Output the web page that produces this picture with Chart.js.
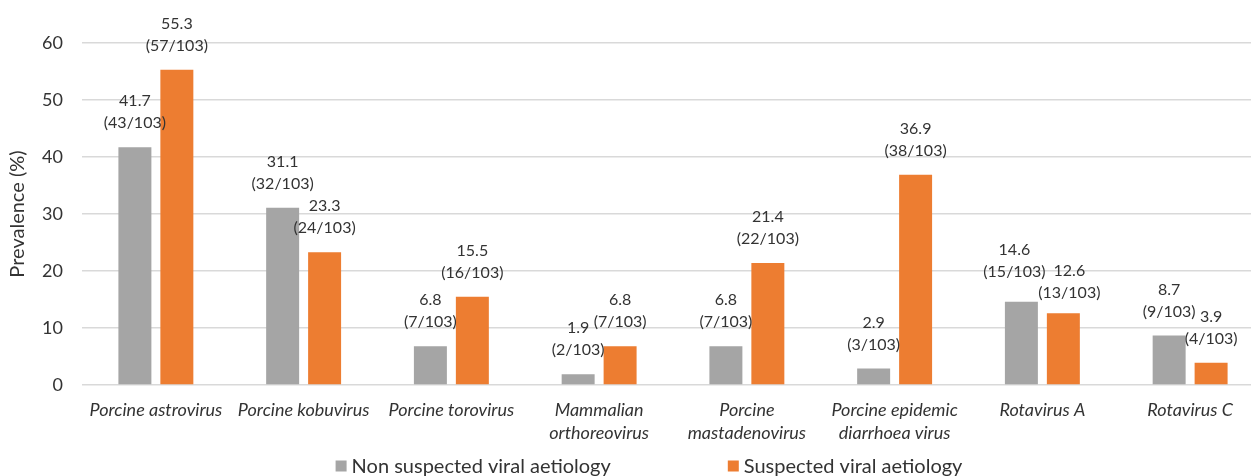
<!DOCTYPE html>
<html>
<head>
<meta charset="utf-8">
<script src="https://cdn.jsdelivr.net/npm/chart.js@4.4.1/dist/chart.umd.min.js"></script>
<style>
  html, body { margin: 0; padding: 0; background: #ffffff; overflow: hidden; }
  #wrap { width: 1264px; height: 476px; }
</style>
</head>
<body>
<div id="wrap"><canvas id="chart" width="1264" height="476"></canvas></div>
<script>
// Virus categories (multi-line labels where the axis wraps them)
const categories = [
  'Porcine astrovirus',
  'Porcine kobuvirus',
  'Porcine torovirus',
  ['Mammalian', 'orthoreovirus'],
  ['Porcine', 'mastadenovirus'],
  ['Porcine epidemic', 'diarrhoea virus'],
  'Rotavirus A',
  'Rotavirus C'
];

const seriesNames = ['Non suspected viral aetiology', 'Suspected viral aetiology'];

// Prevalence (%) per group
const nonSuspectedPrevalence = [41.7, 31.1, 6.8, 1.9, 6.8, 2.9, 14.6, 8.7];
const suspectedPrevalence    = [55.3, 23.3, 15.5, 6.8, 21.4, 36.9, 12.6, 3.9];

// Positive samples per group, out of the group total
const nonSuspectedPositives = [43, 32, 7, 2, 7, 3, 15, 9];
const suspectedPositives    = [57, 24, 16, 7, 22, 38, 13, 4];
const groupTotal = 103;

const yTicks = [0, 10, 20, 30, 40, 50, 60];

const FONT = 'Lato, "Open Sans", "DejaVu Sans", sans-serif';
const TEXT = '#333333';

// Hand-placed label nudges (dataset index -> point index -> [dx, dy]) so the
// Rotavirus A labels do not collide
const labelNudges = { 0: { 6: [-7, -6] }, 1: { 6: [6, 4] } };

// Two-line value labels above each bar: "value" and "(n/total)"
const valueLabels = {
  id: 'valueLabels',
  afterDatasetsDraw(chart) {
    const ctx = chart.ctx;
    ctx.save();
    ctx.font = '16px ' + FONT;
    ctx.fillStyle = TEXT;
    ctx.textAlign = 'center';
    ctx.textBaseline = 'middle';
    chart.data.datasets.forEach((ds, di) => {
      const meta = chart.getDatasetMeta(di);
      meta.data.forEach((bar, i) => {
        const nudge = (labelNudges[di] && labelNudges[di][i]) || [0, 0];
        const x = bar.x + nudge[0];
        const y = bar.y + nudge[1];
        ctx.fillText(ds.data[i].toFixed(1), x, y - 46);
        ctx.fillText('(' + ds.positives[i] + '/' + groupTotal + ')', x, y - 24);
      });
    });
    ctx.restore();
  }
};

// Legend row along the bottom with square swatches
const bottomLegend = {
  id: 'bottomLegend',
  afterDraw(chart) {
    const ctx = chart.ctx;
    ctx.save();
    ctx.font = '20px ' + FONT;
    ctx.textBaseline = 'middle';
    const box = 11, boxGap = 5, itemGap = 117;
    const items = chart.data.datasets.map(ds => ({
      label: ds.label, color: ds.backgroundColor,
      w: box + boxGap + ctx.measureText(ds.label).width
    }));
    const total = items.reduce((s, it) => s + it.w, 0) + itemGap * (items.length - 1);
    let x = chart.width / 2 + 17 - total / 2;
    const y = 466;
    items.forEach(it => {
      ctx.fillStyle = it.color;
      ctx.fillRect(x, y - box / 2, box, box);
      ctx.fillStyle = TEXT;
      ctx.textAlign = 'left';
      ctx.fillText(it.label, x + box + boxGap, y + 1);
      x += it.w + itemGap;
    });
    ctx.restore();
  }
};

new Chart(document.getElementById('chart'), {
  type: 'bar',
  data: {
    labels: categories,
    datasets: [
      {
        label: seriesNames[0],
        data: nonSuspectedPrevalence,
        positives: nonSuspectedPositives,
        backgroundColor: '#a5a5a5'
      },
      {
        label: seriesNames[1],
        data: suspectedPrevalence,
        positives: suspectedPositives,
        backgroundColor: '#ed7d31'
      }
    ]
  },
  options: {
    responsive: false,
    animation: false,
    devicePixelRatio: 1,
    layout: { padding: { top: 43, left: 0, right: 0, bottom: 0 } },
    datasets: {
      bar: { categoryPercentage: 0.568, barPercentage: 0.786 }
    },
    plugins: {
      legend: { display: false },
      tooltip: { enabled: false }
    },
    scales: {
      x: {
        grid: { display: false },
        border: { display: false },
        ticks: {
          autoSkip: false,
          maxRotation: 0,
          minRotation: 0,
          padding: 6,
          color: TEXT,
          font: { family: FONT, size: 18, style: 'italic', lineHeight: 1.28 }
        },
        afterFit(scale) { scale.height = 91; }
      },
      y: {
        min: 0,
        max: 60,
        afterBuildTicks(scale) { scale.ticks = yTicks.map(v => ({ value: v })); },
        border: { display: false },
        grid: { color: '#d9d9d9', lineWidth: 1.6, drawTicks: false },
        ticks: {
          padding: 19,
          color: TEXT,
          font: { family: FONT, size: 18 }
        },
        title: {
          display: true,
          text: 'Prevalence (%)',
          color: TEXT,
          padding: { top: 6, bottom: 0 },
          font: { family: FONT, size: 20 }
        },
        afterFit(scale) { scale.width = 82; }
      }
    }
  },
  plugins: [valueLabels, bottomLegend]
});
</script>
</body>
</html>
